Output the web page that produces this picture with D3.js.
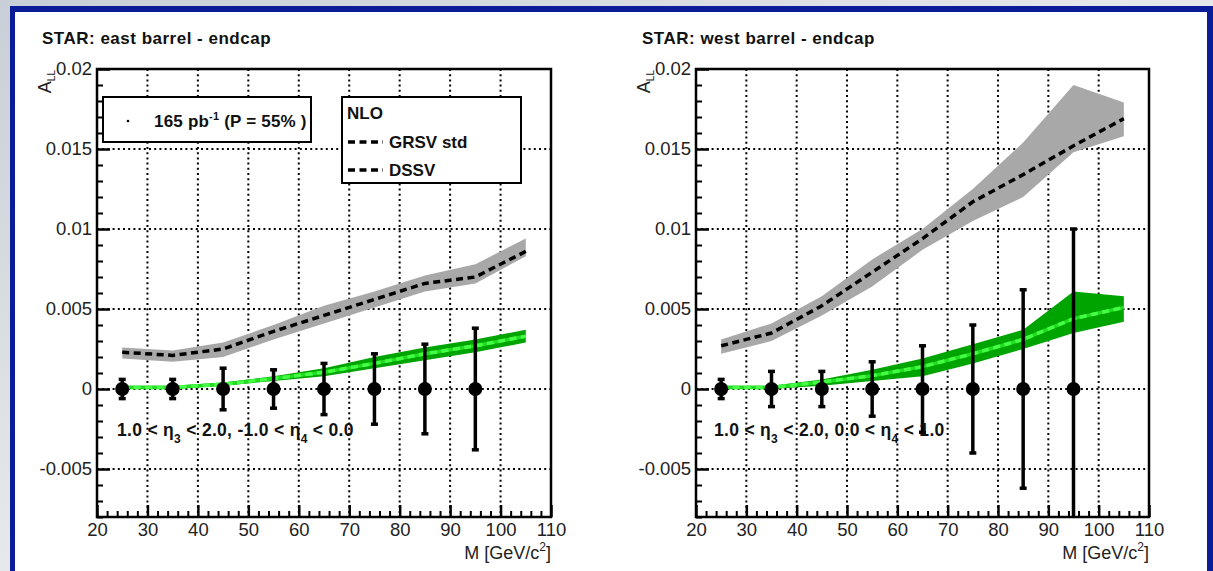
<!DOCTYPE html>
<html><head><meta charset="utf-8">
<script src="https://cdn.jsdelivr.net/npm/d3@7"></script>
<style>
html,body{margin:0;padding:0;background:#dde1e6;}
svg{display:block;}
text{font-family:"Liberation Sans",Arial,sans-serif;}
</style></head>
<body><svg id="chart" width="1213" height="571"></svg>
<script>
// ---------- data ----------
const panelTitles = ["STAR: east barrel - endcap", "STAR: west barrel - endcap"];
const massBins = [25, 35, 45, 55, 65, 75, 85, 95];
const eastALL = [0, 0, 0, 0, 0, 0, 0, 0];
const eastErr = [0.0006, 0.0006, 0.0013, 0.0012, 0.0016, 0.0022, 0.0028, 0.0038];
const westALL = [0, 0, 0, 0, 0, 0, 0, 0];
const westErr = [0.0006, 0.0011, 0.0011, 0.0017, 0.0027, 0.0040, 0.0062, 0.0100];

const theoryMass = [25, 35, 45, 55, 65, 75, 85, 95, 105];
const eastGrsv   = [0.0023, 0.0021, 0.0025, 0.0036, 0.0046, 0.0056, 0.0066, 0.0070, 0.0086];
const eastGrsvLo = [0.0019, 0.0017, 0.0020, 0.0031, 0.0041, 0.0051, 0.0061, 0.0066, 0.0083];
const eastGrsvHi = [0.0026, 0.0024, 0.0029, 0.0040, 0.0052, 0.0061, 0.0071, 0.0078, 0.0094];
const eastDssv   = [0.0001, 0.0001, 0.0003, 0.00065, 0.00105, 0.0016, 0.0022, 0.0027, 0.0033];
const eastDssvLo = [0.0000, 0.0000, 0.0002, 0.0005, 0.0008, 0.0013, 0.0018, 0.0023, 0.0029];
const eastDssvHi = [0.0002, 0.0002, 0.0004, 0.0008, 0.0013, 0.0020, 0.0026, 0.0031, 0.0037];

const westGrsv   = [0.0027, 0.0035, 0.0052, 0.0073, 0.0094, 0.0117, 0.0134, 0.0152, 0.0169];
const westGrsvLo = [0.0022, 0.0030, 0.0046, 0.0064, 0.0087, 0.0105, 0.0120, 0.0148, 0.0158];
const westGrsvHi = [0.0031, 0.0041, 0.0058, 0.0081, 0.0100, 0.0125, 0.0154, 0.0190, 0.0179];
const westDssv   = [0.0001, 0.0001, 0.00044, 0.00083, 0.0014, 0.0022, 0.0031, 0.0044, 0.0051];
const westDssvLo = [0.0000, 0.0000, 0.0002, 0.0005, 0.0008, 0.0016, 0.0025, 0.0035, 0.0042];
const westDssvHi = [0.0002, 0.0002, 0.0006, 0.0012, 0.0019, 0.0028, 0.0037, 0.0061, 0.0058];

const xTicks = [20, 30, 40, 50, 60, 70, 80, 90, 100, 110];
const yTicks = [-0.005, 0, 0.005, 0.01, 0.015, 0.02];
const yTickLabels = ["-0.005", "0", "0.005", "0.01", "0.015", "0.02"];
const etaLabels = [
  ["1.0 < η", "3", " < 2.0, -1.0 < η", "4", " < 0.0"],
  ["1.0 < η", "3", " < 2.0, 0.0 < η", "4", " < 1.0"]
];
const legendData = "165 pb";
const legendTheory = ["GRSV std", "DSSV"];

// ---------- drawing ----------
const svg = d3.select("#chart");
const defs = svg.append("defs");
const grad = defs.append("linearGradient").attr("id","bg").attr("x1",0).attr("x2",1).attr("y1",0).attr("y2",1);
grad.append("stop").attr("offset","0%").attr("stop-color","#c9cfd6");
grad.append("stop").attr("offset","50%").attr("stop-color","#e6e9ec");
grad.append("stop").attr("offset","100%").attr("stop-color","#cfd4da");
svg.append("rect").attr("width",1213).attr("height",571).attr("fill","url(#bg)");
svg.append("rect").attr("x",10).attr("y",6).attr("width",1210).attr("height",580).attr("fill","#0b1c98");
svg.append("rect").attr("x",15).attr("y",12).attr("width",1192).attr("height",570).attr("fill","#ffffff");

const panels = [
  {x0:97, x1:551, title:panelTitles[0], titleX:42, pts:eastALL, err:eastErr,
   g:eastGrsv, gLo:eastGrsvLo, gHi:eastGrsvHi, d:eastDssv, dLo:eastDssvLo, dHi:eastDssvHi,
   eta:etaLabels[0], etaX:117, legend:true},
  {x0:696, x1:1149, title:panelTitles[1], titleX:642, pts:westALL, err:westErr,
   g:westGrsv, gLo:westGrsvLo, gHi:westGrsvHi, d:westDssv, dLo:westDssvLo, dHi:westDssvHi,
   eta:etaLabels[1], etaX:714, legend:false}
];
const yTop = 69, yBot = 517;
const FONT = "Liberation Sans, Arial, sans-serif";

panels.forEach(p => {
  const x = d3.scaleLinear().domain([20,110]).range([p.x0,p.x1]);
  const y = d3.scaleLinear().domain([-0.008,0.02]).range([yBot,yTop]);
  const g = svg.append("g");
  const clipId = "clip"+p.x0;
  defs.append("clipPath").attr("id",clipId).append("rect")
    .attr("x",p.x0).attr("y",yTop).attr("width",p.x1-p.x0).attr("height",yBot-yTop);

  // title
  g.append("text").attr("x",p.titleX).attr("y",44).attr("font-weight","bold")
    .attr("font-size",17).attr("letter-spacing",0.5).attr("fill","#111").text(p.title);

  // grid
  const grid = g.append("g").attr("stroke","#000").attr("stroke-width",2).attr("stroke-dasharray","2 3.2");
  xTicks.filter(t=>t>20 && t<110).forEach(t=>{
    grid.append("line").attr("x1",x(t)).attr("x2",x(t)).attr("y1",yTop).attr("y2",yBot);
  });
  yTicks.filter(t=>t<0.02).forEach(t=>{
    grid.append("line").attr("x1",p.x0).attr("x2",p.x1).attr("y1",y(t)).attr("y2",y(t));
  });

  const plot = g.append("g").attr("clip-path",`url(#${clipId})`);
  const idx = d3.range(theoryMass.length);
  const area = (lo,hi)=>d3.area().x(i=>x(theoryMass[i])).y0(i=>y(lo[i])).y1(i=>y(hi[i]));
  const line = (v)=>d3.line().x(i=>x(theoryMass[i])).y(i=>y(v[i]));

  plot.append("path").attr("d",area(p.gLo,p.gHi)(idx)).attr("fill","#a8a8a8");
  plot.append("path").attr("d",line(p.g)(idx)).attr("fill","none").attr("stroke","#000")
    .attr("stroke-width",3.5).attr("stroke-dasharray","7 4.5");
  plot.append("path").attr("d",area(p.dLo,p.dHi)(idx)).attr("fill","#00a400");
  plot.append("path").attr("d",line(p.d)(idx)).attr("fill","none").attr("stroke","#22dd22")
    .attr("stroke-width",3.5);
  plot.append("path").attr("d",line(p.d)(idx)).attr("fill","none").attr("stroke","#44ff44")
    .attr("stroke-width",3.5).attr("stroke-dasharray","7 4.5");

  // eta annotation
  const t = g.append("text").attr("x",p.etaX).attr("y",436).attr("font-weight","bold")
    .attr("font-size",17.5).attr("letter-spacing",0.3).attr("fill","#111");
  p.eta.forEach((s,i)=>{
    const ts = t.append("tspan").text(s);
    if (i%2===1) ts.attr("font-size",12).attr("dy",7);
    else if (i>0) ts.attr("dy",-7);
  });

  // data points
  const pts = plot.append("g");
  massBins.forEach((m,i)=>{
    const cx = x(m), v = p.pts[i], e = p.err[i];
    pts.append("line").attr("x1",cx).attr("x2",cx).attr("y1",y(v+e)).attr("y2",y(v-e))
      .attr("stroke","#000").attr("stroke-width",3.5);
    [v+e, v-e].forEach(yy=>{
      pts.append("line").attr("x1",cx-3.5).attr("x2",cx+3.5).attr("y1",y(yy)).attr("y2",y(yy))
        .attr("stroke","#000").attr("stroke-width",3.5);
    });
    pts.append("circle").attr("cx",cx).attr("cy",y(v)).attr("r",7).attr("fill","#000");
  });

  // axes
  const yMinor = d3.range(-8,21).map(k=>k/1000).filter(v=>!yTicks.some(t=>Math.abs(t-v)<1e-9));
  const xMinor = d3.range(20,111,2).filter(v=>v%10!==0);
  const ax = g.append("g");
  ax.append("g").attr("transform",`translate(${p.x0},0)`)
    .call(d3.axisLeft(y).tickValues(yMinor).tickSize(-6).tickFormat(""))
    .call(s=>{s.select(".domain").remove(); s.selectAll("line").attr("stroke","#000").attr("stroke-width",2);});
  ax.append("g").attr("transform",`translate(${p.x0},0)`)
    .call(d3.axisLeft(y).tickValues(yTicks).tickSize(-13).tickPadding(5)
      .tickFormat((d,i)=>yTickLabels[i]))
    .call(s=>{s.select(".domain").remove();
      s.selectAll("line").attr("stroke","#000").attr("stroke-width",2.5);
      s.selectAll("text").attr("font-size",18.5).attr("fill","#222").attr("font-family",FONT);});
  ax.append("g").attr("transform",`translate(0,${yBot})`)
    .call(d3.axisBottom(x).tickValues(xMinor).tickSize(-6).tickFormat(""))
    .call(s=>{s.select(".domain").remove(); s.selectAll("line").attr("stroke","#000").attr("stroke-width",2);});
  ax.append("g").attr("transform",`translate(0,${yBot})`)
    .call(d3.axisBottom(x).tickValues(xTicks).tickSize(-12).tickPadding(6).tickFormat(d3.format("d")))
    .call(s=>{s.select(".domain").remove();
      s.selectAll("line").attr("stroke","#000").attr("stroke-width",2.5);
      s.selectAll("text").attr("font-size",18.5).attr("fill","#222").attr("font-family",FONT);});

  // frame
  g.append("rect").attr("x",p.x0).attr("y",yTop).attr("width",p.x1-p.x0).attr("height",yBot-yTop)
    .attr("fill","none").attr("stroke","#000").attr("stroke-width",2.5);

  // axis titles
  const xt = g.append("text").attr("x",p.x1).attr("y",559).attr("text-anchor","end")
    .attr("font-size",18).attr("fill","#222");
  xt.append("tspan").text("M [GeV/c");
  xt.append("tspan").attr("font-size",12).attr("dy",-8).text("2");
  xt.append("tspan").attr("dy",8).text("]");
  const yt = g.append("text").attr("transform",`translate(${p.x0-46},70) rotate(-90)`)
    .attr("text-anchor","end").attr("font-size",18).attr("fill","#222");
  yt.append("tspan").text("A");
  yt.append("tspan").attr("font-size",10).attr("dy",4).text("LL");

  // legends
  if (p.legend) {
    const lg = g.append("g");
    lg.append("rect").attr("x",103).attr("y",97).attr("width",208).attr("height",45)
      .attr("fill","#fff").attr("stroke","#000").attr("stroke-width",2);
    lg.append("circle").attr("cx",128).attr("cy",121).attr("r",1.3).attr("fill","#000");
    const lt = lg.append("text").attr("x",154).attr("y",127).attr("font-weight","bold")
      .attr("font-size",17).attr("letter-spacing",0.2).attr("fill","#111");
    lt.append("tspan").text(legendData);
    lt.append("tspan").attr("font-size",11).attr("dy",-7).text("-1");
    lt.append("tspan").attr("dy",7).text(" (P = 55% )");

    lg.append("rect").attr("x",342).attr("y",97).attr("width",179).attr("height",86)
      .attr("fill","#fff").attr("stroke","#000").attr("stroke-width",2);
    lg.append("text").attr("x",347).attr("y",119).attr("font-weight","bold")
      .attr("font-size",17).attr("fill","#111").text("NLO");
    legendTheory.forEach((name,i)=>{
      const yy = 142 + i*28;
      lg.append("line").attr("x1",348).attr("x2",383).attr("y1",yy).attr("y2",yy)
        .attr("stroke","#000").attr("stroke-width",3.5).attr("stroke-dasharray","7 4.5");
      lg.append("text").attr("x",389).attr("y",yy+6).attr("font-weight","bold")
        .attr("font-size",17).attr("fill","#111").text(name);
    });
  }
});
</script></body></html>
